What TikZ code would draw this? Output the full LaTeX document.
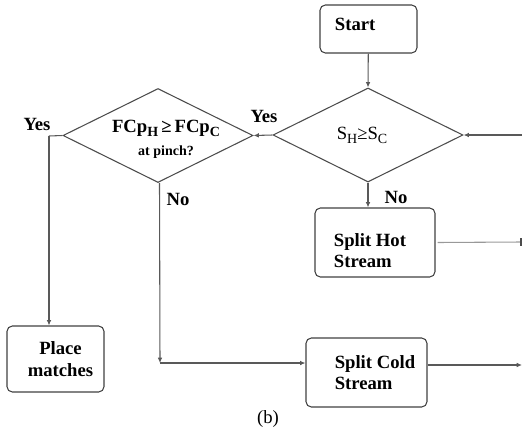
\documentclass[tikz,border=0pt]{standalone}
\usepackage{fontspec}
\setmainfont{Liberation Serif}
\usetikzlibrary{shapes.geometric,arrows.meta}

\newcommand{\lowidx}[1]{\raisebox{-0.45ex}{\fontsize{10.5}{11}\selectfont #1}}

\tikzset{
  flowbox/.style={draw=black!75, line width=0.8pt, rounded corners=4pt, align=left, font=\fontsize{14}{16}\selectfont\bfseries, inner sep=0pt},
  decision/.style={draw=black!70, line width=0.8pt, diamond, inner sep=0pt},
  flowline/.style={draw=black!65, line width=0.8pt},
  flowarrow/.style={flowline, -{Latex[length=4pt,width=3.5pt]}},
  answer/.style={font=\fontsize{14}{16}\selectfont\bfseries, inner sep=0.75pt}
}

\begin{document}
\begin{tikzpicture}[x=0.75pt,y=0.75pt,yscale=-1,xscale=1]
        \useasboundingbox (0,0) rectangle (522,436);
        % boxes
        \node [flowbox, minimum width=72.75pt, minimum height=36pt] (start) at (368.5,29) {Start\rule[-6.8pt]{0pt}{6.8pt}\hspace*{20pt}};
        \node [flowbox, minimum width=90pt, minimum height=51.75pt] (hot) at (375,242.5) {\rule{0pt}{21.5pt}Split Hot\hspace*{7.5pt}\\Stream};
        \node [flowbox, minimum width=90.75pt, minimum height=51.75pt] (cold) at (366.5,372.5) {\hspace*{12.75pt}Split Cold\\\hspace*{12.75pt}Stream};
        \node [flowbox, minimum width=72.75pt, minimum height=49.5pt, align=center] (place) at (55.5,359) {\hspace*{7.5pt}Place\\\hspace*{7.5pt}matches};
        % decisions
        \node [decision, minimum width=142.5pt, minimum height=70.5pt] (dsc) at (368,135) {};
        \node [inner sep=0pt, font=\fontsize{14}{16}\selectfont] (dsctxt) at (362,135) {S\lowidx{H}≥S\lowidx{C}};
        \node [decision, minimum width=142.5pt, minimum height=70.5pt] (dfc) at (158,135.5) {};
        \node [inner sep=0pt, align=center] (dfctxt) at (166,139.5) {\fontsize{14}{16}\selectfont\bfseries FCp\lowidx{H}\,≥\,FCp\lowidx{C}\\[5pt]\fontsize{10.5}{12}\selectfont\bfseries at pinch?};
        % free ends
        \coordinate (inR) at (522,135);
        \coordinate (outH) at (521,242);
        \coordinate (outC) at (522,365);
        \coordinate (bendY) at (49,136);
        \coordinate (bendN) at (160,363);
        % connectors
        \draw [flowarrow] (start) -- (dsc.north);
        \draw [flowarrow] (inR) -- (dsc.east);
        \draw [flowarrow] (dsc.west) -- (dfc.east);
        \draw [flowarrow] (dsc.south) -- (hot.north -| dsc.south);
        \draw [flowline, draw=black!40] (hot.east) ++(1.5pt,0) -- (outH);
        \draw [draw=black!70, line width=1pt] (outH) ++(0,-4) -- ++(0,8);
        \draw [flowline] (dfc.west) -- (bendY);
        \draw [flowarrow] (bendY) -- (place.north -| bendY);
        \draw [flowarrow] (dfc.south) ++(1.5,0) -- (bendN);
        \draw [flowarrow] (bendN) -- (cold.west |- bendN);
        \draw [flowarrow] (cold.east |- outC) -- (outC);
        % labels
        \node [answer] (yes1) at (264,116) {Yes};
        \node [answer] (yes2) at (37,124) {Yes};
        \node [answer] (no1) at (396,197) {No};
        \node [answer] (no2) at (178,199) {No};
        \node [inner sep=0pt, font=\fontsize{14}{16}\selectfont] (cap) at (268,419) {(b)};
\end{tikzpicture}
\end{document}
